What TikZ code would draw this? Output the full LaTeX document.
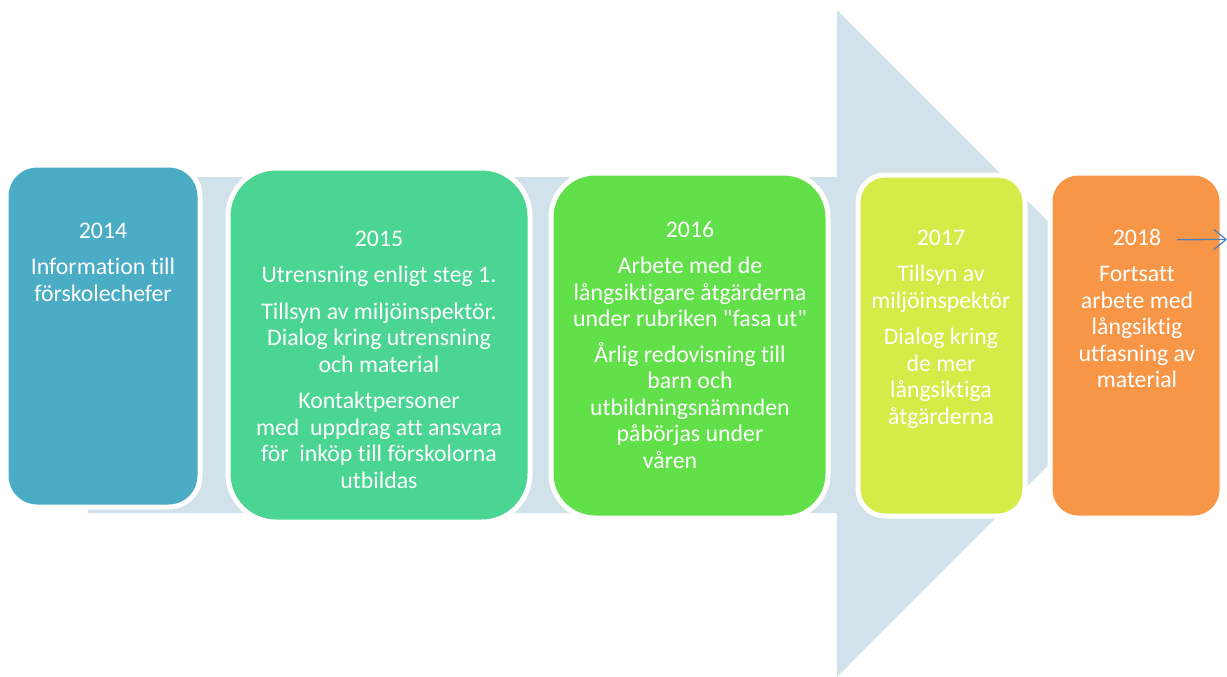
\documentclass[tikz,border=0pt]{standalone}
\usepackage{fontspec}
\setmainfont{Carlito}[Ligatures={NoCommon}]
\usetikzlibrary{positioning,arrows.meta}

\newcommand\qdbl{\XeTeXglyph\XeTeXcharglyph"22\relax}

\definecolor{shaftblue}{HTML}{D1E2EA}
\definecolor{c14}{HTML}{4BACC6}
\definecolor{c15}{HTML}{4AD592}
\definecolor{c16}{HTML}{62E04A}
\definecolor{c17}{HTML}{D5EB48}
\definecolor{c18}{HTML}{F79646}
\definecolor{pointerblue}{HTML}{4F81BD}

\tikzset{
  stage/.style={draw=white, line width=5pt, rounded corners=#1, inner sep=0pt},
  year/.style={anchor=base, text=white, inner sep=0pt, outer sep=0pt,
    font=\fontsize{23.8}{26.5}\selectfont},
  body/.style={align=center, text=white, inner sep=0pt, outer sep=0pt,
    font=\fontsize{23.8}{26.5}\selectfont},
  pointer/.style={draw=pointerblue, line width=1.3pt,
    -{Straight Barb[length=12pt,width=20pt]}}
}

\begin{document}
\begin{tikzpicture}[x=1pt,y=-1pt,node distance=10pt]
			\useasboundingbox (0,0) rectangle (1227,677);
			% big arrow behind the stages
			\fill[shaftblue] (88,177) -- (837,177) -- (837,10) -- (1170,343.5)
			  -- (837,677) -- (837,513) -- (88,513) -- cycle;

			\node[stage=31pt, fill=c14, minimum width=194pt, minimum height=342pt] (b14) at (103,336) {};
			\node[stage=48pt, fill=c15, minimum width=302pt, minimum height=354pt] (b15) at (379,345) {};
			\node[stage=44pt, fill=c16, minimum width=277pt, minimum height=345pt] (b16) at (689.5,345.5) {};
			\node[stage=27pt, fill=c17, minimum width=167pt, minimum height=341pt] (b17) at (941.5,345.5) {};
			\node[stage=28pt, fill=c18, minimum width=172pt, minimum height=345pt] (b18) at (1136,345.5) {};

			\node[year] (y14) at (103,238) {\strut 2014};
			\node[year] (y15) at (379,246) {\strut 2015};
			\node[year] (y16) at (690,237) {\strut 2016};
			\node[year] (y17) at (941,245) {\strut 2017};
			\node[year] (y18) at (1137,245) {\strut 2018};

			\node[body] (t14) [below=of y14] {\strut Information till\\ förskolechefer};
			\node[body] (t15) [below=of y15] {\strut Utrensning enligt steg 1.\\[10pt]
			  Tillsyn av miljöinspektör.\\ Dialog kring utrensning\\ och material\\[10pt]
			  Kontaktpersoner\\ med~ uppdrag att ansvara\\ för~ inköp till förskolorna\\ utbildas};
			\node[body] (t16) [below=of y16] {\strut Arbete med de\\ långsiktigare åtgärderna\\
			  under rubriken \qdbl fasa ut\qdbl\\[9pt] Årlig redovisning till\\ barn och\\
			  utbildningsnämnden\\ påbörjas under\\ våren\hspace*{40pt}};
			\node[body] (t17) [below=of y17] {\strut Tillsyn av\\ miljöinspektör\\[10pt]
			  Dialog kring\\ de mer\\ långsiktiga\\ åtgärderna};
			\node[body] (t18) [below=of y18] {\strut Fortsatt\\ arbete med\\ långsiktig\\
			  utfasning av\\ material};

			\coordinate (ptr) at (1227,239.5);
			\draw[pointer] ([xshift=16pt]y18.east) -- (ptr);
		\end{tikzpicture}
\end{document}
